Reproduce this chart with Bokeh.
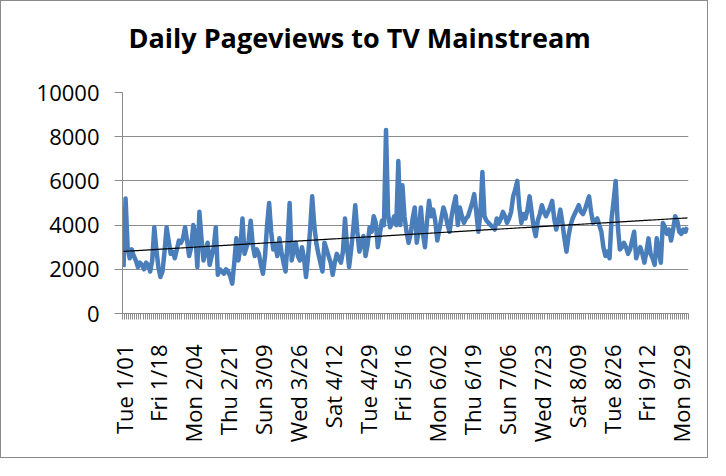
import math
import numpy as np
import pandas as pd
from bokeh.plotting import figure
from bokeh.models import FixedTicker, Range1d, Title
from bokeh.embed import file_html
from bokeh.resources import INLINE

# ---- data ----
title_text = "Daily Pageviews to TV Mainstream"
start_date = "2008-01-01"
pageviews = [
    2100, 5200, 3000, 2500, 2900, 2600, 2400, 2100, 2300, 2200,
    2000, 2300, 2200, 1900, 2400, 3900, 2900, 2100, 1650, 1900,
    2800, 3900, 3300, 2700, 2800, 2500, 2900, 3300, 3200, 3400,
    3900, 3300, 2600, 3000, 4000, 3600, 2100, 4600, 3400, 2400,
    2800, 3200, 2200, 2600, 3000, 3900, 1750, 2000, 1900, 1800,
    2000, 1900, 1700, 1350, 2300, 3400, 2400, 3000, 4300, 2700,
    3000, 3300, 4200, 3100, 2600, 2900, 2700, 2200, 1800, 2600,
    4000, 5000, 3700, 2900, 3100, 2600, 3400, 2800, 2300, 1900,
    3200, 5000, 2400, 2900, 3200, 2600, 2400, 3000, 2500, 1650,
    2600, 3800, 5300, 4000, 3200, 2700, 2300, 1900, 3200, 2900,
    2600, 2300, 1750, 2300, 2700, 2500, 2300, 2800, 4300, 3000,
    2100, 2900, 3800, 4900, 3700, 2800, 3200, 3500, 2600, 3100,
    3900, 3700, 4400, 4100, 3000, 3600, 4200, 4000, 8300, 4500,
    3900, 4100, 4400, 4000, 6900, 4000, 5800, 4400, 3700, 3200,
    3600, 4300, 4800, 3200, 3800, 4800, 3600, 3000, 4200, 5100,
    4400, 4700, 4200, 3300, 3800, 4300, 4800, 4500, 4000, 3700,
    4400, 4900, 5300, 4000, 4800, 4400, 4100, 4300, 4400, 4700,
    5000, 5400, 4600, 3700, 4500, 6400, 4400, 4200, 4100, 4000,
    3900, 3800, 4300, 4100, 4300, 4600, 4400, 4100, 4300, 4600,
    5300, 5600, 6000, 4800, 4100, 4500, 4300, 4700, 5300, 4600,
    3900, 3500, 4200, 4500, 4900, 4600, 4400, 4600, 4800, 5100,
    4300, 3800, 4200, 4700, 4100, 3400, 2800, 3500, 4000, 4300,
    4500, 4700, 4900, 4600, 4500, 4700, 5000, 5300, 4600, 4100,
    4200, 4300, 4000, 3700, 3000, 2600, 2800, 2500, 4300, 5100,
    6000, 4000, 2900, 3000, 3200, 3000, 2700, 2900, 3300, 3700,
    2500, 2800, 3000, 2700, 2300, 2800, 3400, 2700, 2500, 2200,
    3400, 2800, 2300, 4100, 3900, 3600, 3800, 3300, 3800, 4400,
    4200, 3700, 3600, 3800, 3700, 3900,
]
tick_labels = [
    "Tue 1/01", "Fri 1/18", "Mon 2/04", "Thu 2/21", "Sun 3/09", "Wed 3/26",
    "Sat 4/12", "Tue 4/29", "Fri 5/16", "Mon 6/02", "Thu 6/19", "Sun 7/06",
    "Wed 7/23", "Sat 8/09", "Tue 8/26", "Fri 9/12", "Mon 9/29",
]
y_ticks = [0, 2000, 4000, 6000, 8000, 10000]

# ---- derived ----
dates = pd.date_range(start_date, periods=len(pageviews), freq="D")
categories = [f"{d.strftime('%a')} {d.month}/{d.day:02d}" for d in dates]
x = np.arange(len(categories))
tick_pos = [categories.index(t) for t in tick_labels]
slope, intercept = np.polyfit(x, np.array(pageviews, dtype=float), 1)
trend = slope * x + intercept

W, H = 708, 458
p = figure(width=W, height=H, output_backend="svg", toolbar_location=None,
           title=None,
           x_range=Range1d(-0.5, len(x) - 0.5), y_range=Range1d(0, 10000),
           min_border_left=121, min_border_right=21,
           min_border_top=91, min_border_bottom=146)
p.styles = {"border": "1px solid #8a8a8a"}
p.outline_line_color = None
p.background_fill_color = "white"
p.border_fill_color = "white"

# spacer between the frame and the title, then the title itself
p.add_layout(Title(text=" ", text_font_size="1px", standoff=34), "above")
p.add_layout(Title(text=title_text, align="left", offset=6, standoff=0,
                   text_font="Open Sans", text_font_style="bold",
                   text_font_size="27px", text_color="black"), "above")

p.line(x, pageviews, color="#4a7ebb", line_width=4.5, line_join="round")
p.line(x, trend, color="black", line_width=1.2)

grey = "#8c8c8c"
p.xgrid.visible = False
p.ygrid.grid_line_color = grey
p.ygrid.grid_line_width = 1.2

p.xaxis.ticker = FixedTicker(ticks=tick_pos,
                             minor_ticks=[i - 0.5 for i in range(len(x) + 1)])
p.xaxis.major_label_overrides = {int(pos): lbl for pos, lbl in zip(tick_pos, tick_labels)}
p.xaxis.major_label_orientation = math.pi / 2
p.xaxis.major_tick_line_color = None
p.xaxis.major_tick_out = 6
p.xaxis.major_tick_in = 0
p.xaxis.minor_tick_out = 6
p.xaxis.minor_tick_in = 0
p.xaxis.minor_tick_line_color = grey
p.xaxis.major_label_standoff = 25
p.xaxis.axis_line_color = grey

p.yaxis.ticker = FixedTicker(ticks=y_ticks)
p.yaxis.major_tick_out = 8
p.yaxis.major_tick_in = 0
p.yaxis.major_tick_line_color = grey
p.yaxis.minor_tick_line_color = None
p.yaxis.axis_line_color = grey
p.yaxis.major_label_standoff = 15

for ax in (p.xaxis, p.yaxis):
    ax.major_label_text_font = "Open Sans"
    ax.major_label_text_color = "black"
p.yaxis.major_label_text_font_size = "22px"
p.xaxis.major_label_text_font_size = "22px"

open("out.html", "w").write(file_html(p, INLINE))
